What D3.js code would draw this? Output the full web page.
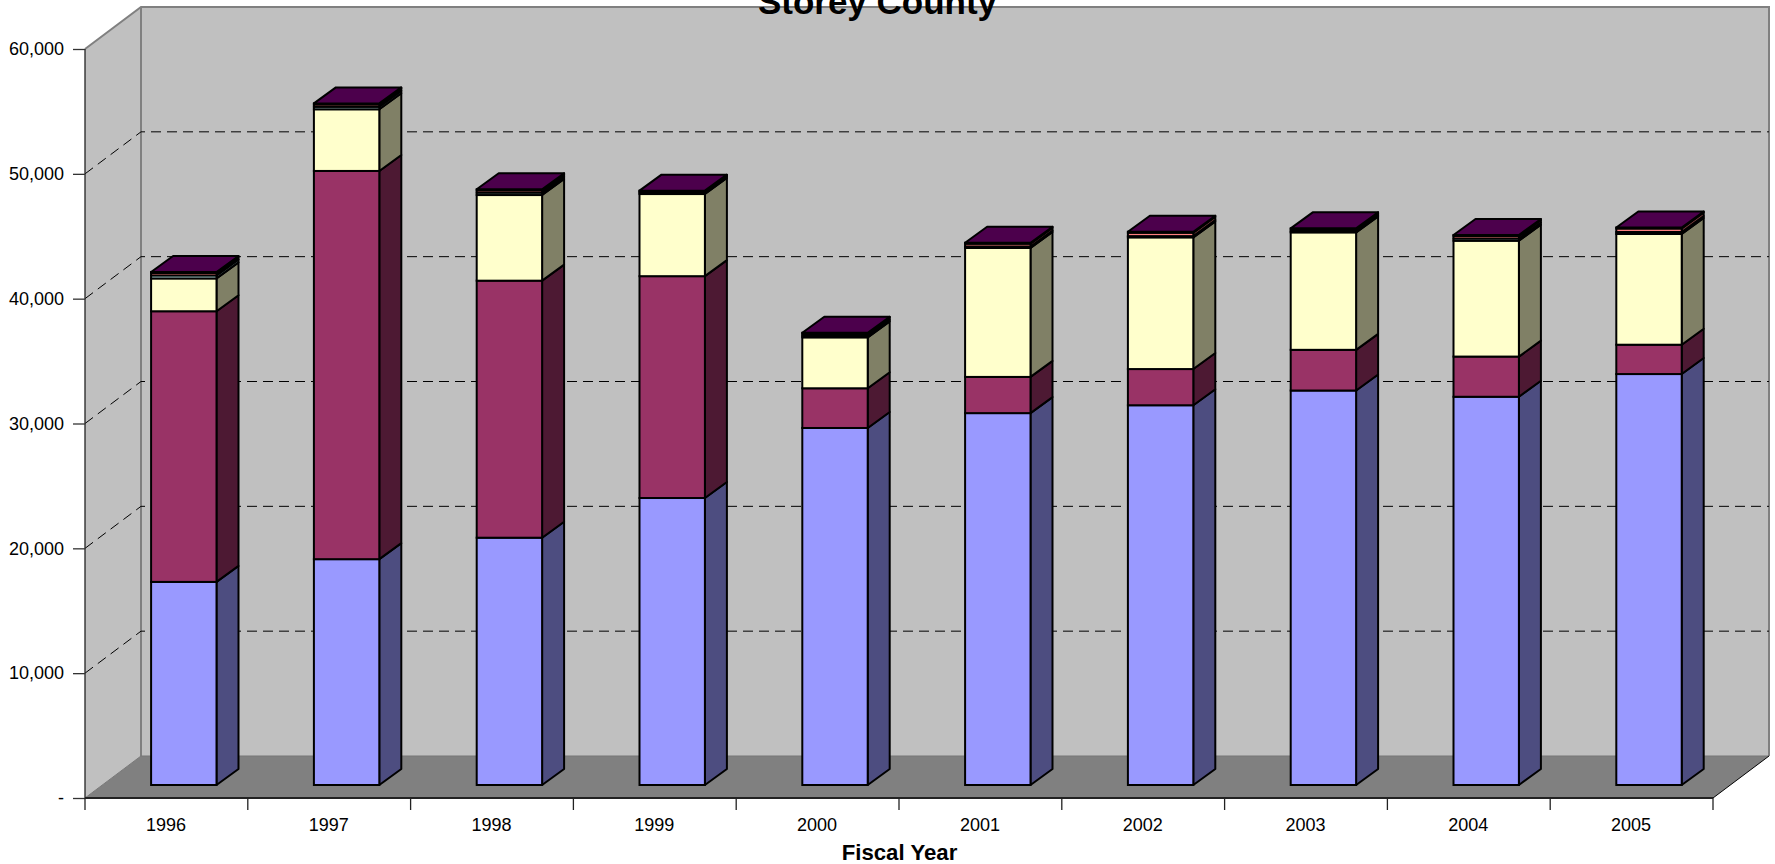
<!DOCTYPE html>
<html>
<head>
<meta charset="utf-8">
<script src="https://cdn.jsdelivr.net/npm/d3@7"></script>
<style>
html,body{margin:0;padding:0;background:#fff;overflow:hidden}
svg{display:block}
text{font-family:"Liberation Sans",Arial,sans-serif;fill:#000}
</style>
</head>
<body>
<svg id="chart" width="1775" height="864"></svg>
<script>
const years = ["1996","1997","1998","1999","2000","2001","2002","2003","2004","2005"];
const seriesBlue   = [16270,18090,19810,22990,28600,29790,30420,31600,31100,32920];
const seriesMaroon = [21680,31100,20590,17770,3180,2900,2900,3260,3220,2350];
const seriesYellow = [2630,4940,6860,6580,4080,10330,10550,9410,9280,8870];
const seriesCyan   = [240,200,190,130,130,120,100,80,180,160];
const seriesSalmon = [200,190,190,70,160,220,270,160,200,280];
const seriesPurple = [80,80,80,70,80,80,80,80,80,80];
const seriesList = [seriesBlue,seriesMaroon,seriesYellow,seriesCyan,seriesSalmon,seriesPurple];
const frontColors = ["#9999FF","#993366","#FFFFCC","#CCFFFF","#FF8080","#660066"];
const sideColors  = ["#4D4D80","#4D1933","#808066","#668080","#804040","#330033"];
const topColor = "#4C004C";
const yTicks = [0,10000,20000,30000,40000,50000,60000];

const svg = d3.select("#chart");
const x = d3.scaleBand().domain(years).range([85,1713]);
const y = d3.scaleLinear().domain([0,60000]).range([798,49]);
const wallDx = 56, wallDy = -42;
const barW = 65.4, barLift = 13, barDx = 22, barDy = -16;
const barSW = 2;
const barX = yr => x(yr) + (x.bandwidth() - barW)/2 + 17.4;
const line = d3.line();
const floorY = y(0), topY = y(60000), xL = x.range()[0], xR = x.range()[1];

// walls
svg.append("path").attr("d", line([[xL,floorY],[xL+wallDx,floorY+wallDy],[xL+wallDx,topY+wallDy],[xL,topY]]))
  .attr("fill","#C0C0C0");
svg.append("rect").attr("x",xL+wallDx).attr("y",topY+wallDy).attr("width",xR-xL).attr("height",floorY-topY)
  .attr("fill","#C0C0C0");
// floor
svg.append("path").attr("d", line([[xL,floorY],[xL+wallDx,floorY+wallDy],[xR+wallDx,floorY+wallDy],[xR,floorY]]))
  .attr("fill","#808080");
// wall edges
svg.append("path").attr("d", line([[xL,topY],[xL+wallDx,topY+wallDy],[xR+wallDx,topY+wallDy],[xR+wallDx,floorY+wallDy]]))
  .attr("fill","none").attr("stroke","#808080").attr("stroke-width",2);
svg.append("path").attr("d", line([[xL+wallDx,topY+wallDy],[xL+wallDx,floorY+wallDy]]))
  .attr("fill","none").attr("stroke","#808080").attr("stroke-width",2);
svg.append("path").attr("d", line([[xL,floorY],[xL+wallDx,floorY+wallDy],[xR+wallDx,floorY+wallDy]]))
  .attr("fill","none").attr("stroke","#777").attr("stroke-width",1);
svg.append("path").attr("d", line([[xR,floorY],[xR+wallDx,floorY+wallDy]]))
  .attr("fill","none").attr("stroke","#000").attr("stroke-width",1);

// gridlines
yTicks.filter(t => t>0 && t<60000).forEach(t => {
  svg.append("path").attr("d", line([[xL,y(t)],[xL+wallDx,y(t)+wallDy],[xR+wallDx,y(t)+wallDy]]))
    .attr("fill","none").attr("stroke","#000").attr("stroke-width",1).attr("stroke-dasharray","10,6");
});

// bars
years.forEach((yr,i) => {
  const g = svg.append("g");
  const X = barX(yr);
  let cum = 0;
  seriesList.forEach((s,k) => {
    const y0 = y(cum)-barLift, y1 = y(cum+s[i])-barLift;
    cum += s[i];
    g.append("path").attr("d", line([[X+barW,y0],[X+barW+barDx,y0+barDy],[X+barW+barDx,y1+barDy],[X+barW,y1]])+"Z")
      .attr("fill",sideColors[k]).attr("stroke","#000").attr("stroke-width",barSW).attr("stroke-linejoin","round");
    g.append("rect").attr("x",X).attr("y",y1).attr("width",barW).attr("height",y0-y1)
      .attr("fill",frontColors[k]).attr("stroke","#000").attr("stroke-width",barSW);
  });
  const yt = y(cum)-barLift;
  g.append("path").attr("d", line([[X,yt],[X+barDx,yt+barDy],[X+barW+barDx,yt+barDy],[X+barW,yt]])+"Z")
    .attr("fill",topColor).attr("stroke","#000").attr("stroke-width",barSW).attr("stroke-linejoin","round");
});

// y axis
const yAxis = d3.axisLeft(y).tickValues(yTicks).tickSize(12).tickPadding(9)
  .tickFormat(d => d===0 ? "-" : d3.format(",")(d));
const gy = svg.append("g").attr("transform",`translate(${xL},0)`).call(yAxis);
gy.selectAll("text").attr("font-size","18px").attr("font-family",'"Liberation Sans",Arial,sans-serif');
gy.selectAll("line").attr("stroke","#333").attr("stroke-width",1.3);
gy.select(".domain").attr("d",`M0,${topY}V${floorY}`).attr("stroke","#222").attr("stroke-width",1.3);

// x axis: tick marks at band edges, labels at band centres
const gx = svg.append("g");
gx.append("line").attr("x1",xL).attr("x2",xR).attr("y1",floorY).attr("y2",floorY)
  .attr("stroke","#222").attr("stroke-width",2);
const edges = years.map(d => x(d)).concat([xR]);
gx.selectAll(".t").data(edges).join("line").attr("class","t")
  .attr("x1",d=>d).attr("x2",d=>d).attr("y1",floorY).attr("y2",floorY+12)
  .attr("stroke","#222").attr("stroke-width",1.3);
gx.selectAll("text").data(years).join("text")
  .attr("x",d=>x(d)+x.bandwidth()/2-0.5).attr("y",830.5).attr("text-anchor","middle")
  .attr("font-size","18px").text(d=>d);

svg.append("text").attr("x",899.5).attr("y",860).attr("text-anchor","middle")
  .attr("font-size","22.2px").attr("font-weight","bold").text("Fiscal Year");
svg.append("text").attr("x",877.5).attr("y",14).attr("text-anchor","middle")
  .attr("font-size","35px").attr("font-weight","bold").text("Storey County");
</script>
</body>
</html>
